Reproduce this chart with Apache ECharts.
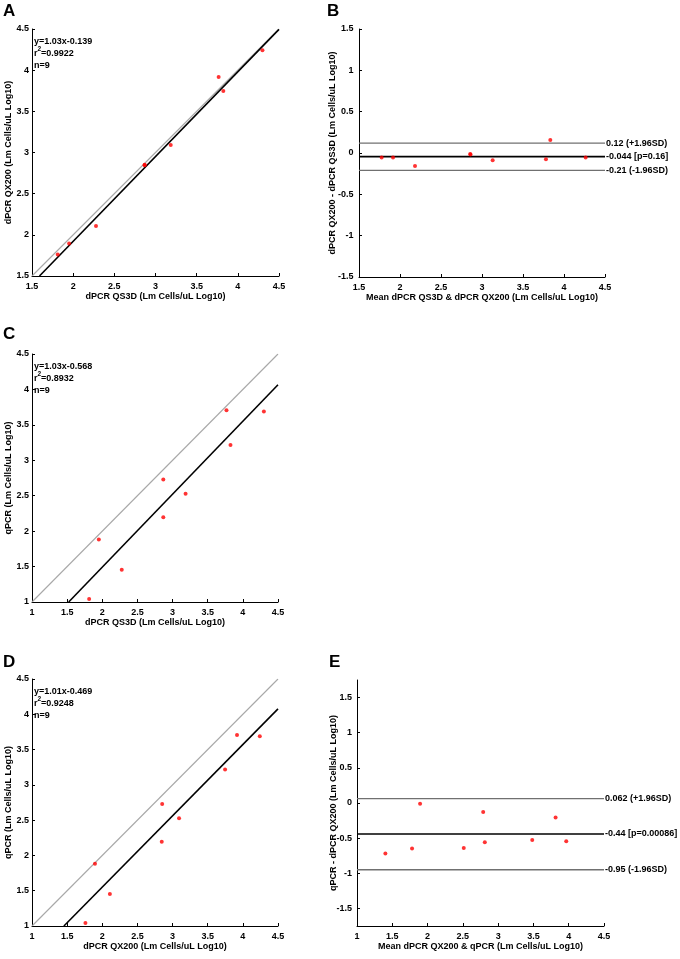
<!DOCTYPE html>
<html>
<head>
    <meta charset="utf-8">
    <title>dPCR vs qPCR</title>
    <script src="https://cdn.jsdelivr.net/npm/echarts@6/dist/echarts.min.js"></script>
    <style>
        body { margin: 0; background: #fff; }
    </style>
</head>
<body>
<div id="main" style="width: 680px;height:959px;"></div>
<script type="text/javascript">
    var myChart = echarts.init(document.getElementById('main'));

    // sample values (Log10 Lm cells/uL)
    var qs3d  = [1.813, 1.951, 2.277, 2.868, 2.868, 3.185, 3.767, 3.824, 4.299];
    var qx200 = [1.760, 1.896, 2.108, 2.852, 2.846, 3.092, 3.917, 3.747, 4.241];
    var qpcr  = [1.042, 1.883, 1.455, 2.728, 2.195, 2.528, 3.705, 3.217, 3.690];

    // Bland-Altman QX200 vs QS3D (panel B)
    var baMeanB = [1.776, 1.915, 2.183, 2.856, 2.860, 3.130, 3.780, 3.833, 4.264];
    var baDiffB = [-0.053, -0.053, -0.158, -0.013, -0.018, -0.089, -0.077, 0.158, -0.053];
    var levelsB = [0.12, -0.044, -0.21];
    var levelTextB = ['0.12 (+1.96SD)', '-0.044 [p=0.16]', '-0.21 (-1.96SD)'];

    // Bland-Altman qPCR vs QX200 (panel E)
    var baMeanE = [1.402, 1.780, 1.894, 2.513, 2.788, 2.811, 3.483, 3.814, 3.965];
    var baDiffE = [-0.719, -0.649, -0.009, -0.639, -0.127, -0.560, -0.527, -0.207, -0.545];
    var levelsE = [0.062, -0.44, -0.95];
    var levelTextE = ['0.062 (+1.96SD)', '-0.44 [p=0.00086]', '-0.95 (-1.96SD)'];

    // regression line end points
    var fitA = [[1.591, 1.5], [4.5, 4.496]];
    var fitC = [[1.522, 1], [4.5, 4.067]];
    var fitD = [[1.454, 1], [4.5, 4.076]];
    var idA = [[1.5, 1.5], [4.5, 4.5]];
    var idCD = [[1, 1], [4.5, 4.5]];

    var statsA = ['y=1.03x-0.139', '0.9922', 'n=9'];
    var statsC = ['y=1.03x-0.568', '0.8932', 'n=9'];
    var statsD = ['y=1.01x-0.469', '0.9248', 'n=9'];

    var FONT = 'Liberation Sans, Arial, sans-serif';
    var tickValsE = [-1.5, -1, -0.5, 0, 0.5, 1, 1.5];

    function pairs(xs, ys) {
        return xs.map(function (x, i) { return [x, ys[i]]; });
    }

    function axis(gi, min, max, name, gap, labelMargin, extra) {
        var a = {
            gridIndex: gi,
            type: 'value',
            min: min,
            max: max,
            interval: 0.5,
            name: name,
            nameLocation: 'middle',
            nameGap: gap,
            nameMoveOverlap: false,
            nameTextStyle: { color: '#000', fontSize: 9, fontWeight: 'bold', fontFamily: FONT },
            axisLine: { show: true, onZero: false, lineStyle: { color: '#000', width: 1 } },
            axisTick: { show: true, inside: true, length: 3, lineStyle: { color: '#000' } },
            axisLabel: { color: '#000', fontSize: 9, fontWeight: 'bold', fontFamily: FONT, margin: labelMargin },
            splitLine: { show: false }
        };
        if (extra) {
            for (var k in extra) { a[k] = extra[k]; }
        }
        return a;
    }

    function scatter(i, data) {
        return {
            type: 'scatter', xAxisIndex: i, yAxisIndex: i,
            data: data, symbol: 'circle', symbolSize: 4,
            itemStyle: { color: '#ff0000' }, z: 5
        };
    }

    function segment(i, data, color, width) {
        return {
            type: 'line', xAxisIndex: i, yAxisIndex: i,
            data: data, showSymbol: false, symbol: 'none',
            lineStyle: { color: color, width: width }, z: 3
        };
    }

    function level(i, x0, x1, y, text, isMean) {
        var s = segment(i, [[x0, y], [x1, y]], isMean ? '#000' : '#707070', isMean ? 1.6 : 1.4);
        s.endLabel = { show: true, formatter: text, color: '#000', fontSize: 9, fontWeight: 'bold', fontFamily: FONT, distance: 1 };
        return s;
    }

    function txt(t, x, y, size) {
        return {
            type: 'text', left: x, top: y,
            style: { text: t, fill: '#000', font: 'bold ' + size + 'px ' + FONT }
        };
    }

    // fit equation, r-squared (with raised 2) and n, first line centred at y
    function statText(x, y, lines) {
        return [
            txt(lines[0], x, y - 5, 9),
            txt('r', x, y + 7, 9),
            txt('2', x + 3.4, y + 4, 6.5),
            txt('=' + lines[1], x + 7, y + 7, 9),
            txt(lines[2], x, y + 19, 9)
        ];
    }

    function letter(ch, x, y) {
        return txt(ch, x, y, 17);
    }

    var series = [
        segment(0, idA, '#a8a8a8', 1.1),
        segment(0, fitA, '#000', 1.6),
        scatter(0, pairs(qs3d, qx200)),
        scatter(1, pairs(baMeanB, baDiffB)),
        segment(2, idCD, '#a8a8a8', 1.1),
        segment(2, fitC, '#000', 1.6),
        scatter(2, pairs(qs3d, qpcr)),
        segment(3, idCD, '#a8a8a8', 1.1),
        segment(3, fitD, '#000', 1.6),
        scatter(3, pairs(qx200, qpcr)),
        scatter(4, pairs(baMeanE, baDiffE))
    ];
    levelsB.forEach(function (v, k) { series.push(level(1, 1.5, 4.5, v, levelTextB[k], k === 1)); });
    levelsE.forEach(function (v, k) { series.push(level(4, 1, 4.5, v, levelTextE[k], k === 1)); });

    option = {
        backgroundColor: '#fff',
        animation: false,
        grid: [
            { left: 32, top: 29, width: 247, height: 247 },
            { left: 359, top: 29, width: 246, height: 248 },
            { left: 32, top: 354, width: 246, height: 248 },
            { left: 32, top: 679, width: 246, height: 247 },
            { left: 357, top: 680, width: 247, height: 246 }
        ],
        xAxis: [
            axis(0, 1.5, 4.5, 'dPCR QS3D (Lm Cells/uL Log10)', 16, 6),
            axis(1, 1.5, 4.5, 'Mean dPCR QS3D & dPCR QX200 (Lm Cells/uL Log10)', 16, 6),
            axis(2, 1, 4.5, 'dPCR QS3D (Lm Cells/uL Log10)', 16, 6),
            axis(3, 1, 4.5, 'dPCR QX200 (Lm Cells/uL Log10)', 16, 6),
            axis(4, 1, 4.5, 'Mean dPCR QX200 & qPCR (Lm Cells/uL Log10)', 16, 6)
        ],
        yAxis: [
            axis(0, 1.5, 4.5, 'dPCR QX200 (Lm Cells/uL Log10)', 19, 3),
            axis(1, -1.5, 1.5, 'dPCR QX200 - dPCR QS3D (Lm Cells/uL Log10)', 21.5, 5.5),
            axis(2, 1, 4.5, 'qPCR (Lm Cells/uL Log10)', 19, 3),
            axis(3, 1, 4.5, 'qPCR (Lm Cells/uL Log10)', 19, 3),
            axis(4, -1.75, 1.75, 'qPCR - dPCR QX200 (Lm Cells/uL Log10)', 18.5, 5, {
                interval: 0.25,
                axisTick: { show: true, inside: true, length: 3, lineStyle: { color: '#000' }, customValues: tickValsE },
                axisLabel: { color: '#000', fontSize: 9, fontWeight: 'bold', fontFamily: FONT, margin: 5, customValues: tickValsE }
            })
        ],
        graphic: [].concat(
            [letter('A', 3, 3), letter('B', 327, 3), letter('C', 3, 326), letter('D', 3, 654), letter('E', 329, 654)],
            statText(34, 42, statsA),
            statText(34, 367, statsC),
            statText(34, 692, statsD)
        ),
        series: series
    };

    myChart.setOption(option);
</script>
</body>
</html>
